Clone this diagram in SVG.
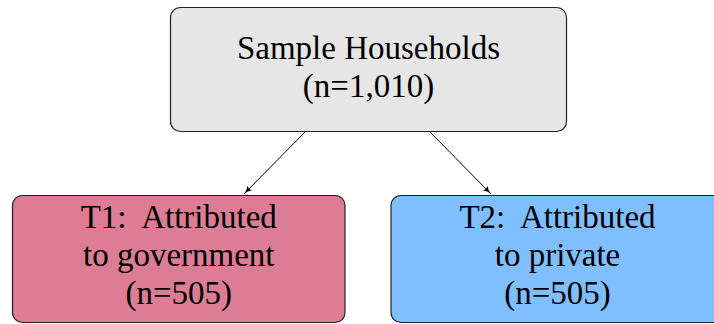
<svg xmlns="http://www.w3.org/2000/svg" width="714" height="324" viewBox="0 0 714 324">
  <defs>
    <marker id="arrow" viewBox="0 0 10 10" refX="10" refY="5" markerWidth="8" markerHeight="8" markerUnits="userSpaceOnUse" orient="auto">
      <path d="M0,1 Q4,4.5 10,5 Q4,5.5 0,9 Q2,5 0,1 Z" fill="#000"/>
    </marker>
    <style>
      .box { stroke: #222; stroke-width: 1.2; }
      .lbl { font-family: "Liberation Serif", "Times New Roman", serif; font-size: 33px; fill: #000; text-anchor: middle; }
      .edge { stroke: #000; stroke-width: 1; fill: none; marker-end: url(#arrow); }
    </style>
  </defs>
  <rect width="714" height="324" fill="#fff"/>
  <g id="connectors">
    <line class="edge" x1="305" y1="132" x2="244" y2="194"/>
    <line class="edge" x1="430" y1="132" x2="491" y2="194"/>
  </g>
  <g id="sample">
    <rect class="box" x="170.5" y="7.5" width="396" height="124" rx="10" fill="#e6e6e6"/>
    <text class="lbl" x="368.5" y="59">Sample Households</text>
    <text class="lbl" x="368.5" y="97">(n=1,010)</text>
  </g>
  <g id="t1">
    <rect class="box" x="12.5" y="195.5" width="332.5" height="127" rx="10" fill="#dd7c95"/>
    <text class="lbl" x="178.75" y="228">T1:&#160; Attributed</text>
    <text class="lbl" x="178.75" y="266">to government</text>
    <text class="lbl" x="178.75" y="304">(n=505)</text>
  </g>
  <g id="t2">
    <rect class="box" x="391" y="195.5" width="333" height="127" rx="10" fill="#80bfff"/>
    <text class="lbl" x="557.5" y="228">T2:&#160; Attributed</text>
    <text class="lbl" x="557.5" y="266">to private</text>
    <text class="lbl" x="557.5" y="304">(n=505)</text>
  </g>
</svg>
